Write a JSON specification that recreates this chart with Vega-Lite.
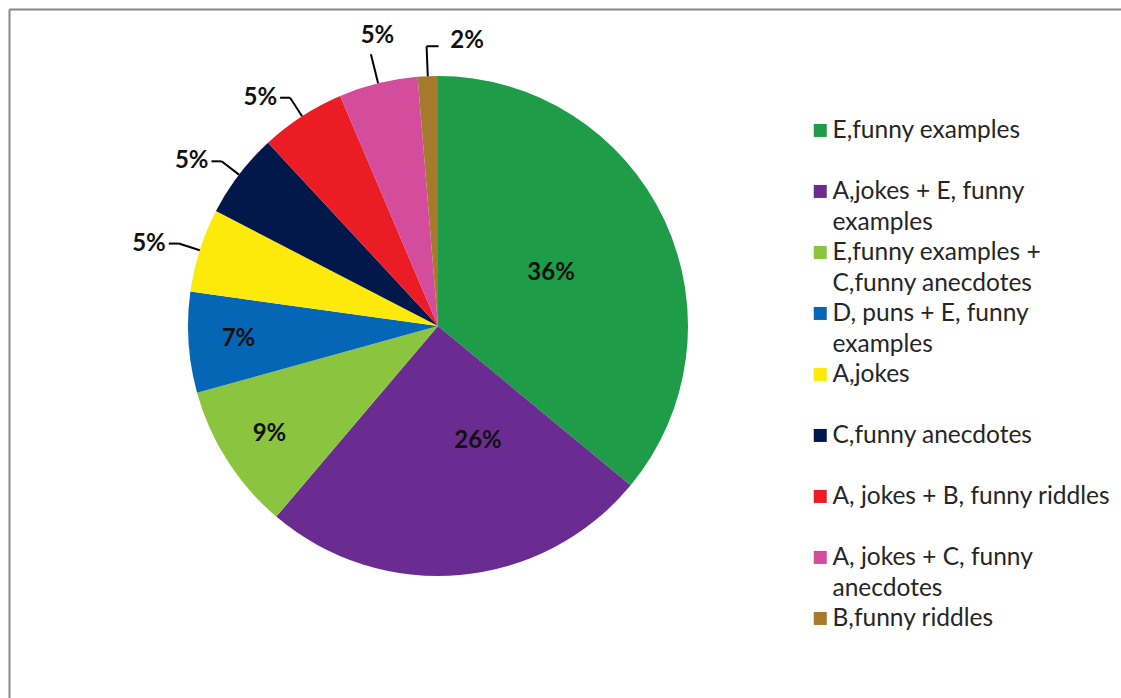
{
  "$schema": "https://vega.github.io/schema/vega-lite/v6.json",
  "width": 1112,
  "height": 689,
  "padding": {"left": 9, "top": 9, "right": 0, "bottom": 0},
  "autosize": {"type": "none"},
  "config": {
    "view": {"stroke": null},
    "style": {"guide-label": {"lineHeight": 31}}
  },
  "data": {
    "values": [
      {"category": "E,funny examples", "value": 36, "label": "36%", "order": 1},
      {"category": "A,jokes  + E, funny examples", "value": 25.2, "label": "26%", "order": 2},
      {"category": "E,funny examples + C,funny anecdotes", "value": 9.5, "label": "9%", "order": 3},
      {"category": "D, puns + E,  funny examples", "value": 6.5, "label": "7%", "order": 4},
      {"category": "A,jokes", "value": 5.4, "label": "5%", "order": 5},
      {"category": "C,funny anecdotes", "value": 5.5, "label": "5%", "order": 6},
      {"category": "A, jokes + B, funny riddles", "value": 5.5, "label": "5%", "order": 7},
      {"category": "A, jokes  + C, funny anecdotes", "value": 5.1, "label": "5%", "order": 8},
      {"category": "B,funny riddles", "value": 1.3, "label": "2%", "order": 9}
    ]
  },
  "transform": [
    {"stack": "value", "groupby": [], "sort": [{"field": "order"}], "as": ["v0", "v1"]}
  ],
  "layer": [
    {
      "mark": {"type": "point", "opacity": 0},
      "encoding": {
        "x": {"field": "v0", "type": "quantitative", "scale": {"domain": [0, 100]},
              "axis": {"orient": "top", "domain": true, "domainColor": "#878787", "domainWidth": 2, "ticks": false, "labels": false, "grid": false, "title": null}},
        "y": {"field": "v1", "type": "quantitative", "scale": {"domain": [0, 100]},
              "axis": {"orient": "left", "domain": true, "domainColor": "#878787", "domainWidth": 2, "ticks": false, "labels": false, "grid": false, "title": null}}
      }
    },
    {
      "mark": {"type": "arc", "x": 429, "y": 317, "radius": 250},
      "encoding": {
        "theta": {"field": "v0", "type": "quantitative", "stack": null, "scale": {"domain": [0, 100]}},
        "theta2": {"field": "v1"},
        "color": {
          "field": "category",
          "type": "nominal",
          "scale": {
            "domain": ["E,funny examples", "A,jokes  + E, funny examples", "E,funny examples + C,funny anecdotes", "D, puns + E,  funny examples", "A,jokes", "C,funny anecdotes", "A, jokes + B, funny riddles", "A, jokes  + C, funny anecdotes", "B,funny riddles"],
            "range": ["#1E9C48", "#6B2C91", "#8BC53F", "#0466B5", "#FDEA0B", "#03184A", "#EC1C24", "#D44C9C", "#A57A2C"]
          },
          "legend": {
            "orient": "none",
            "legendX": 799,
            "legendY": 117,
            "title": null,
            "padding": 0,
            "symbolType": "M-1,-2.2H1V-0.2H-1Z",
            "symbolSize": 169,
            "symbolStrokeWidth": 0,
            "symbolOpacity": 1,
            "labelFont": "Lato",
            "labelFontSize": 24.5,
            "labelColor": "#262626",
            "labelOffset": 0,
            "labelLimit": 500,
            "labelBaseline": "alphabetic",
            "rowPadding": 5,
            "labelExpr": "length(datum.label) > 27 ? [substring(datum.label, 0, lastindexof(substring(datum.label, 0, 21), ' ')), substring(datum.label, lastindexof(substring(datum.label, 0, 21), ' ') + 1)] : [datum.label, '']"
          }
        }
      }
    },
    {
      "transform": [{"filter": "datum.order >= 5 && datum.order <= 7"}],
      "mark": {"type": "rule", "color": "black", "strokeWidth": 2},
      "encoding": {
        "x": {"value": {"expr": "429 + 250*sin(PI*(datum.v0+datum.v1)/100)"}},
        "y": {"value": {"expr": "317 - 250*cos(PI*(datum.v0+datum.v1)/100)"}},
        "x2": {"value": {"expr": "429 + 272*sin(PI*(datum.v0+datum.v1)/100)"}},
        "y2": {"value": {"expr": "317 - 272*cos(PI*(datum.v0+datum.v1)/100)"}}
      }
    },
    {
      "transform": [{"filter": "datum.order >= 5 && datum.order <= 7"}],
      "mark": {"type": "rule", "color": "black", "strokeWidth": 2},
      "encoding": {
        "x": {"value": {"expr": "429 + 272*sin(PI*(datum.v0+datum.v1)/100)"}},
        "y": {"value": {"expr": "317 - 272*cos(PI*(datum.v0+datum.v1)/100)"}},
        "x2": {"value": {"expr": "429 + 272*sin(PI*(datum.v0+datum.v1)/100) - 10"}},
        "y2": {"value": {"expr": "317 - 272*cos(PI*(datum.v0+datum.v1)/100)"}}
      }
    },
    {
      "transform": [{"filter": "datum.order >= 8"}],
      "mark": {"type": "rule", "color": "black", "strokeWidth": 2},
      "encoding": {
        "x": {"value": {"expr": "429 + 250*sin(PI*(datum.v0+datum.v1)/100)"}},
        "y": {"value": {"expr": "317 - 250*cos(PI*(datum.v0+datum.v1)/100)"}},
        "x2": {"value": {"expr": "429 + 280*sin(PI*(datum.v0+datum.v1)/100)"}},
        "y2": {"value": {"expr": "317 - 280*cos(PI*(datum.v0+datum.v1)/100)"}}
      }
    },
    {
      "transform": [{"filter": "datum.order == 9"}],
      "mark": {"type": "rule", "color": "black", "strokeWidth": 2},
      "encoding": {
        "x": {"value": {"expr": "429 + 280*sin(PI*(datum.v0+datum.v1)/100)"}},
        "y": {"value": {"expr": "317 - 280*cos(PI*(datum.v0+datum.v1)/100)"}},
        "x2": {"value": {"expr": "429 + 280*sin(PI*(datum.v0+datum.v1)/100) + 12"}},
        "y2": {"value": {"expr": "317 - 280*cos(PI*(datum.v0+datum.v1)/100)"}}
      }
    },
    {
      "transform": [{"filter": "datum.value >= 6 && datum.order != 2"}],
      "mark": {
        "type": "text", "x": 429, "y": 317, "font": "Lato", "fontWeight": "bold", "fontSize": 24, "color": "#111111",
        "align": "center", "baseline": "middle",
        "theta": {"expr": "PI*(datum.v0+datum.v1)/100"},
        "radius": {"expr": "datum.value > 20 ? 125 : 200"}
      },
      "encoding": {"text": {"field": "label"}}
    },
    {
      "transform": [{"filter": "datum.order == 2"}],
      "mark": {
        "type": "text", "x": 429, "y": 317, "font": "Lato", "fontWeight": "bold", "fontSize": 24, "color": "#111111",
        "align": "center", "baseline": "middle", "dx": 29, "dy": -10,
        "theta": {"expr": "PI*(datum.v0+datum.v1)/100"},
        "radius": 125
      },
      "encoding": {"text": {"field": "label"}}
    },
    {
      "transform": [{"filter": "datum.order >= 5 && datum.order <= 7"}],
      "mark": {
        "type": "text", "x": 429, "y": 317, "font": "Lato", "fontWeight": "bold", "fontSize": 24, "color": "#111111",
        "align": "right", "baseline": "middle", "dx": -13,
        "theta": {"expr": "PI*(datum.v0+datum.v1)/100"},
        "radius": 272
      },
      "encoding": {"text": {"field": "label"}}
    },
    {
      "transform": [{"filter": "datum.order == 8"}],
      "mark": {
        "type": "text", "x": 429, "y": 317, "font": "Lato", "fontWeight": "bold", "fontSize": 24, "color": "#111111",
        "align": "center", "baseline": "bottom", "dx": 8,
        "theta": {"expr": "PI*(datum.v0+datum.v1)/100"},
        "radius": 286
      },
      "encoding": {"text": {"field": "label"}}
    },
    {
      "transform": [{"filter": "datum.order == 9"}],
      "mark": {
        "type": "text", "x": 429, "y": 317, "font": "Lato", "fontWeight": "bold", "fontSize": 24, "color": "#111111",
        "align": "left", "baseline": "middle", "dx": 24,
        "theta": {"expr": "PI*(datum.v0+datum.v1)/100"},
        "radius": 285
      },
      "encoding": {"text": {"field": "label"}}
    }
  ]
}
